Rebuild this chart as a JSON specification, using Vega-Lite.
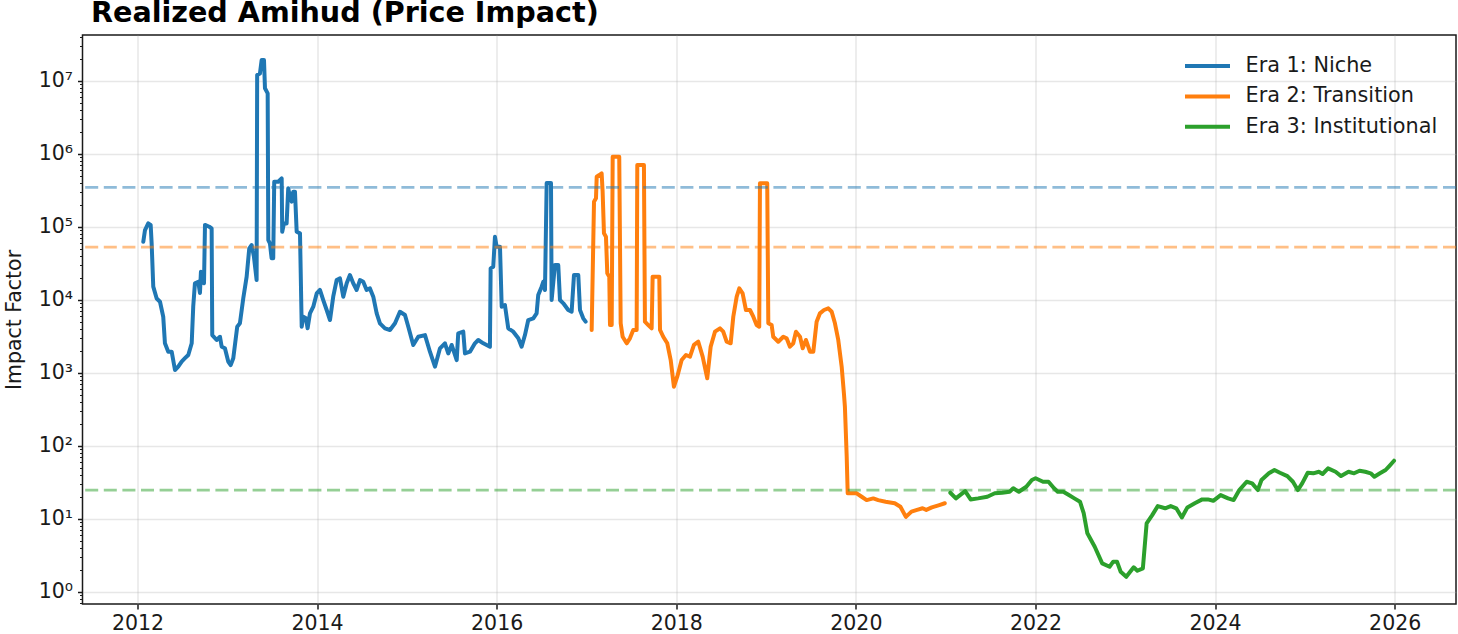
{
  "$schema": "https://vega.github.io/schema/vega-lite/v6.json",
  "autosize": {"type": "none"},
  "padding": {"left": 82.5, "top": 35, "right": 2, "bottom": 30},
  "width": 1373.5,
  "height": 569,
  "background": "white",
  "config": {"font": "DejaVu Sans", "view": {"stroke": "#1a1a1a", "strokeWidth": 1.5}},
  "title": {"text": "Realized Amihud (Price Impact)", "anchor": "start", "frame": "group", "fontSize": 28.6, "fontWeight": "bold", "font": "DejaVu Sans", "color": "black", "baseline": "bottom", "offset": 8, "dx": 8.5, "dy": 38},
  "datasets": {
    "series": [
      {"era": "Era 1: Niche", "year": 2012.065, "value": 62300},
      {"era": "Era 1: Niche", "year": 2012.084, "value": 90100},
      {"era": "Era 1: Niche", "year": 2012.120, "value": 111000},
      {"era": "Era 1: Niche", "year": 2012.147, "value": 106000},
      {"era": "Era 1: Niche", "year": 2012.158, "value": 59300},
      {"era": "Era 1: Niche", "year": 2012.176, "value": 15100},
      {"era": "Era 1: Niche", "year": 2012.214, "value": 10400},
      {"era": "Era 1: Niche", "year": 2012.251, "value": 9390},
      {"era": "Era 1: Niche", "year": 2012.287, "value": 5850},
      {"era": "Era 1: Niche", "year": 2012.306, "value": 2530},
      {"era": "Era 1: Niche", "year": 2012.343, "value": 1940},
      {"era": "Era 1: Niche", "year": 2012.381, "value": 1940},
      {"era": "Era 1: Niche", "year": 2012.418, "value": 1090},
      {"era": "Era 1: Niche", "year": 2012.454, "value": 1210},
      {"era": "Era 1: Niche", "year": 2012.492, "value": 1420},
      {"era": "Era 1: Niche", "year": 2012.529, "value": 1580},
      {"era": "Era 1: Niche", "year": 2012.566, "value": 1750},
      {"era": "Era 1: Niche", "year": 2012.604, "value": 2530},
      {"era": "Era 1: Niche", "year": 2012.621, "value": 8020},
      {"era": "Era 1: Niche", "year": 2012.640, "value": 16800},
      {"era": "Era 1: Niche", "year": 2012.677, "value": 17600},
      {"era": "Era 1: Niche", "year": 2012.696, "value": 12400},
      {"era": "Era 1: Niche", "year": 2012.707, "value": 24200},
      {"era": "Era 1: Niche", "year": 2012.741, "value": 16800},
      {"era": "Era 1: Niche", "year": 2012.752, "value": 106000},
      {"era": "Era 1: Niche", "year": 2012.800, "value": 100000},
      {"era": "Era 1: Niche", "year": 2012.826, "value": 95100},
      {"era": "Era 1: Niche", "year": 2012.833, "value": 3280},
      {"era": "Era 1: Niche", "year": 2012.882, "value": 2810},
      {"era": "Era 1: Niche", "year": 2012.919, "value": 3110},
      {"era": "Era 1: Niche", "year": 2012.938, "value": 2270},
      {"era": "Era 1: Niche", "year": 2012.974, "value": 2160},
      {"era": "Era 1: Niche", "year": 2013.011, "value": 1420},
      {"era": "Era 1: Niche", "year": 2013.038, "value": 1270},
      {"era": "Era 1: Niche", "year": 2013.067, "value": 1580},
      {"era": "Era 1: Niche", "year": 2013.111, "value": 4270},
      {"era": "Era 1: Niche", "year": 2013.141, "value": 4750},
      {"era": "Era 1: Niche", "year": 2013.178, "value": 10400},
      {"era": "Era 1: Niche", "year": 2013.216, "value": 20700},
      {"era": "Era 1: Niche", "year": 2013.245, "value": 50600},
      {"era": "Era 1: Niche", "year": 2013.272, "value": 56100},
      {"era": "Era 1: Niche", "year": 2013.297, "value": 38800},
      {"era": "Era 1: Niche", "year": 2013.327, "value": 18600},
      {"era": "Era 1: Niche", "year": 2013.333, "value": 12000000},
      {"era": "Era 1: Niche", "year": 2013.364, "value": 12600000},
      {"era": "Era 1: Niche", "year": 2013.383, "value": 19200000},
      {"era": "Era 1: Niche", "year": 2013.409, "value": 19200000},
      {"era": "Era 1: Niche", "year": 2013.420, "value": 7870000},
      {"era": "Era 1: Niche", "year": 2013.450, "value": 6720000},
      {"era": "Era 1: Niche", "year": 2013.457, "value": 65700},
      {"era": "Era 1: Niche", "year": 2013.475, "value": 59300},
      {"era": "Era 1: Niche", "year": 2013.494, "value": 36900},
      {"era": "Era 1: Niche", "year": 2013.512, "value": 36900},
      {"era": "Era 1: Niche", "year": 2013.523, "value": 413000},
      {"era": "Era 1: Niche", "year": 2013.568, "value": 413000},
      {"era": "Era 1: Niche", "year": 2013.606, "value": 460000},
      {"era": "Era 1: Niche", "year": 2013.612, "value": 85400},
      {"era": "Era 1: Niche", "year": 2013.631, "value": 111000},
      {"era": "Era 1: Niche", "year": 2013.661, "value": 111000},
      {"era": "Era 1: Niche", "year": 2013.679, "value": 336000},
      {"era": "Era 1: Niche", "year": 2013.698, "value": 258000},
      {"era": "Era 1: Niche", "year": 2013.717, "value": 220000},
      {"era": "Era 1: Niche", "year": 2013.735, "value": 302000},
      {"era": "Era 1: Niche", "year": 2013.754, "value": 302000},
      {"era": "Era 1: Niche", "year": 2013.773, "value": 85400},
      {"era": "Era 1: Niche", "year": 2013.810, "value": 81200},
      {"era": "Era 1: Niche", "year": 2013.829, "value": 4270},
      {"era": "Era 1: Niche", "year": 2013.846, "value": 5850},
      {"era": "Era 1: Niche", "year": 2013.876, "value": 5560},
      {"era": "Era 1: Niche", "year": 2013.895, "value": 4060},
      {"era": "Era 1: Niche", "year": 2013.921, "value": 6510},
      {"era": "Era 1: Niche", "year": 2013.958, "value": 8020},
      {"era": "Era 1: Niche", "year": 2013.996, "value": 12200},
      {"era": "Era 1: Niche", "year": 2014.032, "value": 13600},
      {"era": "Era 1: Niche", "year": 2014.069, "value": 9900},
      {"era": "Era 1: Niche", "year": 2014.107, "value": 7230},
      {"era": "Era 1: Niche", "year": 2014.144, "value": 5270},
      {"era": "Era 1: Niche", "year": 2014.180, "value": 11000},
      {"era": "Era 1: Niche", "year": 2014.218, "value": 18600},
      {"era": "Era 1: Niche", "year": 2014.255, "value": 19600},
      {"era": "Era 1: Niche", "year": 2014.292, "value": 11000},
      {"era": "Era 1: Niche", "year": 2014.330, "value": 16800},
      {"era": "Era 1: Niche", "year": 2014.366, "value": 21800},
      {"era": "Era 1: Niche", "year": 2014.403, "value": 16800},
      {"era": "Era 1: Niche", "year": 2014.441, "value": 13600},
      {"era": "Era 1: Niche", "year": 2014.478, "value": 18600},
      {"era": "Era 1: Niche", "year": 2014.514, "value": 17600},
      {"era": "Era 1: Niche", "year": 2014.552, "value": 13600},
      {"era": "Era 1: Niche", "year": 2014.589, "value": 14300},
      {"era": "Era 1: Niche", "year": 2014.626, "value": 11000},
      {"era": "Era 1: Niche", "year": 2014.664, "value": 6510},
      {"era": "Era 1: Niche", "year": 2014.700, "value": 4750},
      {"era": "Era 1: Niche", "year": 2014.756, "value": 4060},
      {"era": "Era 1: Niche", "year": 2014.812, "value": 3850},
      {"era": "Era 1: Niche", "year": 2014.868, "value": 4750},
      {"era": "Era 1: Niche", "year": 2014.923, "value": 6850},
      {"era": "Era 1: Niche", "year": 2014.979, "value": 6170},
      {"era": "Era 1: Niche", "year": 2015.016, "value": 4270},
      {"era": "Era 1: Niche", "year": 2015.071, "value": 2400},
      {"era": "Era 1: Niche", "year": 2015.127, "value": 3110},
      {"era": "Era 1: Niche", "year": 2015.202, "value": 3280},
      {"era": "Era 1: Niche", "year": 2015.257, "value": 1940},
      {"era": "Era 1: Niche", "year": 2015.313, "value": 1210},
      {"era": "Era 1: Niche", "year": 2015.369, "value": 2160},
      {"era": "Era 1: Niche", "year": 2015.424, "value": 2530},
      {"era": "Era 1: Niche", "year": 2015.461, "value": 1840},
      {"era": "Era 1: Niche", "year": 2015.499, "value": 2400},
      {"era": "Era 1: Niche", "year": 2015.555, "value": 1490},
      {"era": "Era 1: Niche", "year": 2015.572, "value": 3470},
      {"era": "Era 1: Niche", "year": 2015.628, "value": 3650},
      {"era": "Era 1: Niche", "year": 2015.647, "value": 1840},
      {"era": "Era 1: Niche", "year": 2015.703, "value": 1940},
      {"era": "Era 1: Niche", "year": 2015.758, "value": 2530},
      {"era": "Era 1: Niche", "year": 2015.795, "value": 2810},
      {"era": "Era 1: Niche", "year": 2015.851, "value": 2530},
      {"era": "Era 1: Niche", "year": 2015.925, "value": 2270},
      {"era": "Era 1: Niche", "year": 2015.933, "value": 26900},
      {"era": "Era 1: Niche", "year": 2015.962, "value": 28300},
      {"era": "Era 1: Niche", "year": 2015.981, "value": 72900},
      {"era": "Era 1: Niche", "year": 2016.000, "value": 53200},
      {"era": "Era 1: Niche", "year": 2016.037, "value": 53200},
      {"era": "Era 1: Niche", "year": 2016.056, "value": 8020},
      {"era": "Era 1: Niche", "year": 2016.092, "value": 8460},
      {"era": "Era 1: Niche", "year": 2016.129, "value": 4060},
      {"era": "Era 1: Niche", "year": 2016.185, "value": 3650},
      {"era": "Era 1: Niche", "year": 2016.241, "value": 2960},
      {"era": "Era 1: Niche", "year": 2016.278, "value": 2270},
      {"era": "Era 1: Niche", "year": 2016.315, "value": 3280},
      {"era": "Era 1: Niche", "year": 2016.352, "value": 5270},
      {"era": "Era 1: Niche", "year": 2016.408, "value": 5560},
      {"era": "Era 1: Niche", "year": 2016.445, "value": 6510},
      {"era": "Era 1: Niche", "year": 2016.463, "value": 11600},
      {"era": "Era 1: Niche", "year": 2016.501, "value": 15100},
      {"era": "Era 1: Niche", "year": 2016.519, "value": 17600},
      {"era": "Era 1: Niche", "year": 2016.538, "value": 13600},
      {"era": "Era 1: Niche", "year": 2016.557, "value": 397000},
      {"era": "Era 1: Niche", "year": 2016.605, "value": 397000},
      {"era": "Era 1: Niche", "year": 2016.612, "value": 9900},
      {"era": "Era 1: Niche", "year": 2016.649, "value": 29900},
      {"era": "Era 1: Niche", "year": 2016.686, "value": 29900},
      {"era": "Era 1: Niche", "year": 2016.705, "value": 9900},
      {"era": "Era 1: Niche", "year": 2016.742, "value": 8930},
      {"era": "Era 1: Niche", "year": 2016.797, "value": 7230},
      {"era": "Era 1: Niche", "year": 2016.835, "value": 6850},
      {"era": "Era 1: Niche", "year": 2016.861, "value": 21800},
      {"era": "Era 1: Niche", "year": 2016.909, "value": 21800},
      {"era": "Era 1: Niche", "year": 2016.928, "value": 7230},
      {"era": "Era 1: Niche", "year": 2016.964, "value": 5560},
      {"era": "Era 1: Niche", "year": 2016.991, "value": 5000},
      {"era": "Era 2: Transition", "year": 2017.058, "value": 3850},
      {"era": "Era 2: Transition", "year": 2017.084, "value": 220000},
      {"era": "Era 2: Transition", "year": 2017.106, "value": 245000},
      {"era": "Era 2: Transition", "year": 2017.114, "value": 484000},
      {"era": "Era 2: Transition", "year": 2017.143, "value": 511000},
      {"era": "Era 2: Transition", "year": 2017.169, "value": 539000},
      {"era": "Era 2: Transition", "year": 2017.180, "value": 302000},
      {"era": "Era 2: Transition", "year": 2017.195, "value": 81200},
      {"era": "Era 2: Transition", "year": 2017.217, "value": 72900},
      {"era": "Era 2: Transition", "year": 2017.232, "value": 23000},
      {"era": "Era 2: Transition", "year": 2017.254, "value": 20700},
      {"era": "Era 2: Transition", "year": 2017.262, "value": 4500},
      {"era": "Era 2: Transition", "year": 2017.281, "value": 4500},
      {"era": "Era 2: Transition", "year": 2017.292, "value": 910000},
      {"era": "Era 2: Transition", "year": 2017.365, "value": 910000},
      {"era": "Era 2: Transition", "year": 2017.381, "value": 4750},
      {"era": "Era 2: Transition", "year": 2017.403, "value": 3110},
      {"era": "Era 2: Transition", "year": 2017.448, "value": 2530},
      {"era": "Era 2: Transition", "year": 2017.484, "value": 2960},
      {"era": "Era 2: Transition", "year": 2017.521, "value": 3850},
      {"era": "Era 2: Transition", "year": 2017.559, "value": 3850},
      {"era": "Era 2: Transition", "year": 2017.566, "value": 700000},
      {"era": "Era 2: Transition", "year": 2017.640, "value": 700000},
      {"era": "Era 2: Transition", "year": 2017.651, "value": 5000},
      {"era": "Era 2: Transition", "year": 2017.688, "value": 4500},
      {"era": "Era 2: Transition", "year": 2017.726, "value": 4060},
      {"era": "Era 2: Transition", "year": 2017.737, "value": 20700},
      {"era": "Era 2: Transition", "year": 2017.811, "value": 20700},
      {"era": "Era 2: Transition", "year": 2017.819, "value": 3850},
      {"era": "Era 2: Transition", "year": 2017.855, "value": 3110},
      {"era": "Era 2: Transition", "year": 2017.900, "value": 2530},
      {"era": "Era 2: Transition", "year": 2017.938, "value": 1490},
      {"era": "Era 2: Transition", "year": 2017.974, "value": 643},
      {"era": "Era 2: Transition", "year": 2018.011, "value": 881},
      {"era": "Era 2: Transition", "year": 2018.060, "value": 1490},
      {"era": "Era 2: Transition", "year": 2018.108, "value": 1750},
      {"era": "Era 2: Transition", "year": 2018.153, "value": 1660},
      {"era": "Era 2: Transition", "year": 2018.197, "value": 2400},
      {"era": "Era 2: Transition", "year": 2018.245, "value": 2660},
      {"era": "Era 2: Transition", "year": 2018.294, "value": 1660},
      {"era": "Era 2: Transition", "year": 2018.345, "value": 838},
      {"era": "Era 2: Transition", "year": 2018.383, "value": 2270},
      {"era": "Era 2: Transition", "year": 2018.431, "value": 3650},
      {"era": "Era 2: Transition", "year": 2018.487, "value": 4060},
      {"era": "Era 2: Transition", "year": 2018.523, "value": 3650},
      {"era": "Era 2: Transition", "year": 2018.561, "value": 2660},
      {"era": "Era 2: Transition", "year": 2018.606, "value": 2530},
      {"era": "Era 2: Transition", "year": 2018.635, "value": 5850},
      {"era": "Era 2: Transition", "year": 2018.673, "value": 11000},
      {"era": "Era 2: Transition", "year": 2018.702, "value": 14300},
      {"era": "Era 2: Transition", "year": 2018.739, "value": 12200},
      {"era": "Era 2: Transition", "year": 2018.776, "value": 7230},
      {"era": "Era 2: Transition", "year": 2018.821, "value": 7230},
      {"era": "Era 2: Transition", "year": 2018.858, "value": 5850},
      {"era": "Era 2: Transition", "year": 2018.895, "value": 4500},
      {"era": "Era 2: Transition", "year": 2018.924, "value": 4270},
      {"era": "Era 2: Transition", "year": 2018.932, "value": 393000},
      {"era": "Era 2: Transition", "year": 2019.013, "value": 393000},
      {"era": "Era 2: Transition", "year": 2019.025, "value": 4750},
      {"era": "Era 2: Transition", "year": 2019.062, "value": 4500},
      {"era": "Era 2: Transition", "year": 2019.080, "value": 3110},
      {"era": "Era 2: Transition", "year": 2019.136, "value": 2660},
      {"era": "Era 2: Transition", "year": 2019.192, "value": 3110},
      {"era": "Era 2: Transition", "year": 2019.229, "value": 2960},
      {"era": "Era 2: Transition", "year": 2019.266, "value": 2270},
      {"era": "Era 2: Transition", "year": 2019.303, "value": 2530},
      {"era": "Era 2: Transition", "year": 2019.333, "value": 3650},
      {"era": "Era 2: Transition", "year": 2019.378, "value": 3110},
      {"era": "Era 2: Transition", "year": 2019.408, "value": 2160},
      {"era": "Era 2: Transition", "year": 2019.444, "value": 2810},
      {"era": "Era 2: Transition", "year": 2019.489, "value": 1940},
      {"era": "Era 2: Transition", "year": 2019.526, "value": 1940},
      {"era": "Era 2: Transition", "year": 2019.563, "value": 5000},
      {"era": "Era 2: Transition", "year": 2019.600, "value": 6510},
      {"era": "Era 2: Transition", "year": 2019.645, "value": 7230},
      {"era": "Era 2: Transition", "year": 2019.693, "value": 7620},
      {"era": "Era 2: Transition", "year": 2019.731, "value": 6850},
      {"era": "Era 2: Transition", "year": 2019.767, "value": 4750},
      {"era": "Era 2: Transition", "year": 2019.804, "value": 2810},
      {"era": "Era 2: Transition", "year": 2019.842, "value": 1210},
      {"era": "Era 2: Transition", "year": 2019.867, "value": 522},
      {"era": "Era 2: Transition", "year": 2019.878, "value": 342},
      {"era": "Era 2: Transition", "year": 2019.898, "value": 70.6},
      {"era": "Era 2: Transition", "year": 2019.909, "value": 22.3},
      {"era": "Era 2: Transition", "year": 2019.953, "value": 22.3},
      {"era": "Era 2: Transition", "year": 2020.009, "value": 22.3},
      {"era": "Era 2: Transition", "year": 2020.065, "value": 20.0},
      {"era": "Era 2: Transition", "year": 2020.120, "value": 18.0},
      {"era": "Era 2: Transition", "year": 2020.194, "value": 19.0},
      {"era": "Era 2: Transition", "year": 2020.249, "value": 18.0},
      {"era": "Era 2: Transition", "year": 2020.331, "value": 17.1},
      {"era": "Era 2: Transition", "year": 2020.433, "value": 16.3},
      {"era": "Era 2: Transition", "year": 2020.496, "value": 14.6},
      {"era": "Era 2: Transition", "year": 2020.557, "value": 10.6},
      {"era": "Era 2: Transition", "year": 2020.619, "value": 12.5},
      {"era": "Era 2: Transition", "year": 2020.681, "value": 13.2},
      {"era": "Era 2: Transition", "year": 2020.743, "value": 13.9},
      {"era": "Era 2: Transition", "year": 2020.784, "value": 13.2},
      {"era": "Era 2: Transition", "year": 2020.846, "value": 14.3},
      {"era": "Era 2: Transition", "year": 2020.929, "value": 15.4},
      {"era": "Era 2: Transition", "year": 2020.990, "value": 16.3},
      {"era": "Era 3: Institutional", "year": 2021.052, "value": 22.7},
      {"era": "Era 3: Institutional", "year": 2021.114, "value": 19.0},
      {"era": "Era 3: Institutional", "year": 2021.217, "value": 23.9},
      {"era": "Era 3: Institutional", "year": 2021.278, "value": 18.4},
      {"era": "Era 3: Institutional", "year": 2021.361, "value": 19.0},
      {"era": "Era 3: Institutional", "year": 2021.464, "value": 20.0},
      {"era": "Era 3: Institutional", "year": 2021.547, "value": 22.3},
      {"era": "Era 3: Institutional", "year": 2021.629, "value": 22.7},
      {"era": "Era 3: Institutional", "year": 2021.712, "value": 23.4},
      {"era": "Era 3: Institutional", "year": 2021.753, "value": 26.1},
      {"era": "Era 3: Institutional", "year": 2021.815, "value": 23.4},
      {"era": "Era 3: Institutional", "year": 2021.898, "value": 27.4},
      {"era": "Era 3: Institutional", "year": 2021.960, "value": 33.9},
      {"era": "Era 3: Institutional", "year": 2022.001, "value": 35.8},
      {"era": "Era 3: Institutional", "year": 2022.084, "value": 32.1},
      {"era": "Era 3: Institutional", "year": 2022.145, "value": 32.1},
      {"era": "Era 3: Institutional", "year": 2022.207, "value": 26.1},
      {"era": "Era 3: Institutional", "year": 2022.248, "value": 23.4},
      {"era": "Era 3: Institutional", "year": 2022.310, "value": 23.4},
      {"era": "Era 3: Institutional", "year": 2022.372, "value": 21.1},
      {"era": "Era 3: Institutional", "year": 2022.433, "value": 19.0},
      {"era": "Era 3: Institutional", "year": 2022.496, "value": 17.1},
      {"era": "Era 3: Institutional", "year": 2022.537, "value": 11.9},
      {"era": "Era 3: Institutional", "year": 2022.578, "value": 6.31},
      {"era": "Era 3: Institutional", "year": 2022.660, "value": 4.13},
      {"era": "Era 3: Institutional", "year": 2022.743, "value": 2.45},
      {"era": "Era 3: Institutional", "year": 2022.825, "value": 2.20},
      {"era": "Era 3: Institutional", "year": 2022.866, "value": 2.58},
      {"era": "Era 3: Institutional", "year": 2022.908, "value": 2.58},
      {"era": "Era 3: Institutional", "year": 2022.949, "value": 1.88},
      {"era": "Era 3: Institutional", "year": 2023.011, "value": 1.60},
      {"era": "Era 3: Institutional", "year": 2023.094, "value": 2.16},
      {"era": "Era 3: Institutional", "year": 2023.135, "value": 1.94},
      {"era": "Era 3: Institutional", "year": 2023.196, "value": 2.09},
      {"era": "Era 3: Institutional", "year": 2023.238, "value": 8.65},
      {"era": "Era 3: Institutional", "year": 2023.300, "value": 11.2},
      {"era": "Era 3: Institutional", "year": 2023.362, "value": 14.9},
      {"era": "Era 3: Institutional", "year": 2023.444, "value": 13.9},
      {"era": "Era 3: Institutional", "year": 2023.506, "value": 14.9},
      {"era": "Era 3: Institutional", "year": 2023.568, "value": 13.9},
      {"era": "Era 3: Institutional", "year": 2023.630, "value": 10.4},
      {"era": "Era 3: Institutional", "year": 2023.692, "value": 14.3},
      {"era": "Era 3: Institutional", "year": 2023.774, "value": 16.3},
      {"era": "Era 3: Institutional", "year": 2023.857, "value": 18.4},
      {"era": "Era 3: Institutional", "year": 2023.919, "value": 18.4},
      {"era": "Era 3: Institutional", "year": 2023.980, "value": 17.6},
      {"era": "Era 3: Institutional", "year": 2024.062, "value": 21.1},
      {"era": "Era 3: Institutional", "year": 2024.145, "value": 19.0},
      {"era": "Era 3: Institutional", "year": 2024.207, "value": 18.0},
      {"era": "Era 3: Institutional", "year": 2024.270, "value": 24.7},
      {"era": "Era 3: Institutional", "year": 2024.352, "value": 32.1},
      {"era": "Era 3: Institutional", "year": 2024.413, "value": 30.5},
      {"era": "Era 3: Institutional", "year": 2024.476, "value": 24.7},
      {"era": "Era 3: Institutional", "year": 2024.517, "value": 33.9},
      {"era": "Era 3: Institutional", "year": 2024.599, "value": 41.9},
      {"era": "Era 3: Institutional", "year": 2024.661, "value": 46.5},
      {"era": "Era 3: Institutional", "year": 2024.722, "value": 42.7},
      {"era": "Era 3: Institutional", "year": 2024.805, "value": 38.4},
      {"era": "Era 3: Institutional", "year": 2024.867, "value": 32.1},
      {"era": "Era 3: Institutional", "year": 2024.921, "value": 24.7},
      {"era": "Era 3: Institutional", "year": 2024.970, "value": 30.5},
      {"era": "Era 3: Institutional", "year": 2025.032, "value": 42.7},
      {"era": "Era 3: Institutional", "year": 2025.094, "value": 41.9},
      {"era": "Era 3: Institutional", "year": 2025.156, "value": 44.0},
      {"era": "Era 3: Institutional", "year": 2025.197, "value": 41.0},
      {"era": "Era 3: Institutional", "year": 2025.258, "value": 49.0},
      {"era": "Era 3: Institutional", "year": 2025.342, "value": 44.0},
      {"era": "Era 3: Institutional", "year": 2025.403, "value": 38.4},
      {"era": "Era 3: Institutional", "year": 2025.486, "value": 44.0},
      {"era": "Era 3: Institutional", "year": 2025.548, "value": 41.9},
      {"era": "Era 3: Institutional", "year": 2025.609, "value": 45.5},
      {"era": "Era 3: Institutional", "year": 2025.672, "value": 44.0},
      {"era": "Era 3: Institutional", "year": 2025.733, "value": 41.9},
      {"era": "Era 3: Institutional", "year": 2025.774, "value": 37.6},
      {"era": "Era 3: Institutional", "year": 2025.836, "value": 41.9},
      {"era": "Era 3: Institutional", "year": 2025.899, "value": 46.5},
      {"era": "Era 3: Institutional", "year": 2025.940, "value": 52.7},
      {"era": "Era 3: Institutional", "year": 2025.993, "value": 62.3}
    ],
    "means": [
      {"era": "Era 1: Niche", "mean": 347000},
      {"era": "Era 2: Transition", "mean": 52700},
      {"era": "Era 3: Institutional", "mean": 24.7}
    ]
  },
  "layer": [
    {
      "data": {"name": "series"},
      "mark": {"type": "line", "strokeWidth": 4, "strokeJoin": "round", "strokeCap": "round"},
      "encoding": {
        "x": {
          "field": "year", "type": "quantitative",
          "scale": {"domain": [2011.388, 2026.683], "nice": false, "zero": false},
          "axis": {
            "values": [2012, 2014, 2016, 2018, 2020, 2022, 2024, 2026],
            "format": "d", "title": null, "domain": false,
            "grid": true, "gridColor": "#b0b0b0", "gridOpacity": 0.3, "gridWidth": 1.5,
            "tickColor": "#1a1a1a", "tickSize": 5, "tickWidth": 1.5,
            "labelFont": "DejaVu Sans", "labelFontSize": 20.5, "labelColor": "#1a1a1a",
            "labelPadding": 4, "labelFlush": false
          }
        },
        "y": {
          "field": "value", "type": "quantitative",
          "scale": {"type": "log", "domain": [0.679, 42300000], "nice": false},
          "axis": {
            "values": [0.7, 0.8, 0.9, 1, 2, 3, 4, 5, 6, 7, 8, 9, 10, 20, 30, 40, 50, 60, 70, 80, 90, 100, 200, 300, 400, 500, 600, 700, 800, 900, 1000, 2000, 3000, 4000, 5000, 6000, 7000, 8000, 9000, 10000, 20000, 30000, 40000, 50000, 60000, 70000, 80000, 90000, 100000, 200000, 300000, 400000, 500000, 600000, 700000, 800000, 900000, 1000000, 2000000, 3000000, 4000000, 5000000, 6000000, 7000000, 8000000, 9000000, 10000000, 20000000, 30000000, 40000000],
            "labelExpr": "indexof([1,10,100,1000,10000,100000,1000000,10000000], datum.value) >= 0 ? '10' + ['⁰','¹','²','³','⁴','⁵','⁶','⁷'][round(log(datum.value) / LN10)] : ''",
            "labelOverlap": false, "labelFlush": false,
            "title": "Impact Factor", "titleFont": "DejaVu Sans", "titleFontSize": 20.5, "titleFontWeight": "normal", "titleColor": "#1a1a1a", "titlePadding": 14,
            "domain": false,
            "grid": true, "gridColor": "#b0b0b0", "gridWidth": 1.5,
            "gridOpacity": {"condition": {"test": "indexof([1,10,100,1000,10000,100000,1000000,10000000], datum.value) >= 0", "value": 0.3}, "value": 0},
            "tickColor": "#1a1a1a",
            "tickSize": {"condition": {"test": "indexof([1,10,100,1000,10000,100000,1000000,10000000], datum.value) >= 0", "value": 5}, "value": 3},
            "tickWidth": {"condition": {"test": "indexof([1,10,100,1000,10000,100000,1000000,10000000], datum.value) >= 0", "value": 1.5}, "value": 1},
            "labelFont": "DejaVu Sans", "labelFontSize": 20.5, "labelColor": "#1a1a1a", "labelPadding": 5
          }
        },
        "color": {
          "field": "era", "type": "nominal",
          "scale": {"domain": ["Era 1: Niche", "Era 2: Transition", "Era 3: Institutional"], "range": ["#1f77b4", "#ff7f0e", "#2ca02c"]},
          "legend": {
            "title": null, "orient": "top-right", "offset": 10, "padding": 9,
            "symbolType": "M-2.25,0H2.25", "symbolSize": 400, "symbolStrokeWidth": 4,
            "labelFont": "DejaVu Sans", "labelFontSize": 20.8, "labelColor": "#1a1a1a",
            "labelOffset": 26, "rowPadding": 8.4, "labelLimit": 400
          }
        }
      }
    },
    {
      "data": {"name": "means"},
      "mark": {"type": "rule", "strokeDash": [13, 5.6], "strokeWidth": 2.8, "opacity": 0.5},
      "encoding": {
        "y": {"field": "mean", "type": "quantitative"},
        "color": {"field": "era", "type": "nominal", "legend": null}
      }
    }
  ]
}
